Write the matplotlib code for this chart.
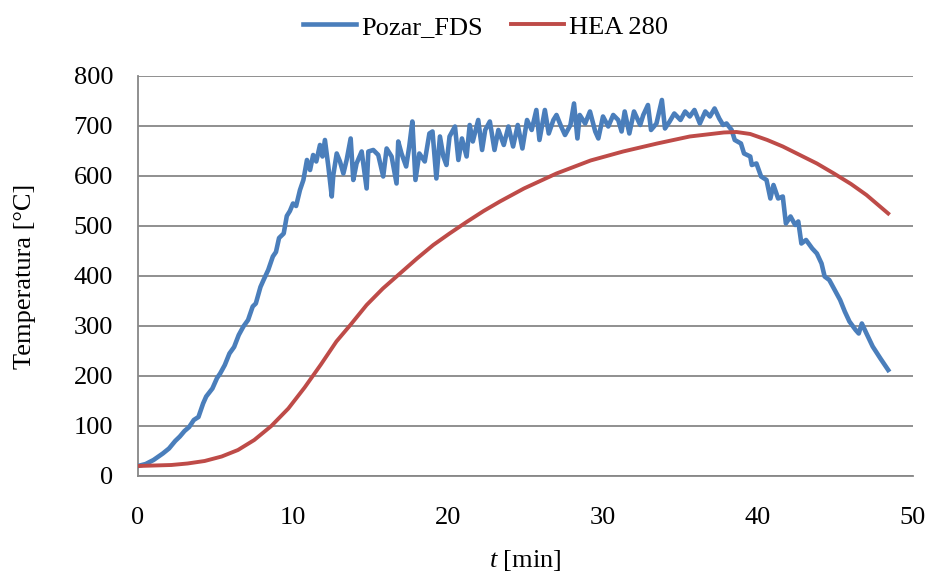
import matplotlib.pyplot as plt

plt.rcParams['font.family'] = ['Liberation Serif', 'DejaVu Serif']
plt.rcParams['mathtext.fontset'] = 'custom'
plt.rcParams['mathtext.it'] = 'Liberation Serif:italic'
plt.rcParams['mathtext.rm'] = 'Liberation Serif'

# Temperatura gazów z symulacji FDS
t_fds = [0.0, 0.5, 1.0, 1.6, 2.0, 2.4, 2.7, 3.0, 3.3, 3.6, 3.9, 4.2, 4.4, 4.8, 5.1,
         5.3, 5.6, 5.9, 6.2, 6.5, 6.8, 7.1, 7.4, 7.6, 7.9, 8.1, 8.4, 8.7, 8.9, 9.1,
         9.4, 9.6, 9.8, 10.0, 10.2,
         10.45, 10.67, 10.9, 11.1, 11.3, 11.5, 11.74, 11.9, 12.06, 12.28, 12.5, 12.6, 12.82,
         13.03, 13.25, 13.46, 13.72, 13.89, 14.1, 14.43, 14.75, 14.86, 15.18, 15.5, 15.82,
         16.04, 16.36, 16.68, 16.79, 17.0, 17.3, 17.5, 17.7, 17.9, 18.15, 18.5, 18.8, 19.0,
         19.25, 19.48, 19.7, 19.9, 20.1, 20.45, 20.67, 20.9, 21.2, 21.4, 21.6, 21.95, 22.2,
         22.4, 22.7, 23.0, 23.25, 23.6, 23.9, 24.2, 24.5, 24.8, 25.1, 25.4, 25.7, 25.9,
         26.25, 26.5, 26.8, 27.0, 27.3, 27.55, 27.9, 28.13, 28.35, 28.5, 28.85, 29.16, 29.5,
         29.7, 30.0, 30.34, 30.66, 30.98, 31.2, 31.4, 31.7, 32.0, 32.4, 32.6, 32.9, 33.1,
         33.45, 33.8, 34.0, 34.3, 34.6, 35.0, 35.3, 35.6, 35.9, 36.25, 36.6, 36.9, 37.2,
         37.5, 37.75, 37.97, 38.3, 38.5, 38.9, 39.1, 39.5, 39.6, 39.9, 40.2, 40.55, 40.8,
         41.0, 41.3, 41.6, 41.8, 42.1, 42.4, 42.6, 42.8, 43.1, 43.5, 43.8, 44.1, 44.3, 44.6,
         45.0, 45.3, 45.6, 45.9, 46.3, 46.5, 46.7, 47.0, 47.4, 47.9, 48.4]
temp_fds = [20, 24, 32, 45, 55, 70, 79, 90, 98, 112, 118, 145, 159, 175, 196,
            205, 222, 245, 258, 282, 299, 312, 339, 345, 378, 392, 412, 439, 448, 476,
            485, 520, 530, 545, 540,
            572, 592, 632, 612, 642, 629, 662, 639, 672, 619, 559, 602, 645,
            629, 605, 632, 675, 592, 625, 649, 575, 649, 652, 642, 599,
            655, 639, 585, 669, 645, 619, 659, 709, 592, 645, 629, 685, 689,
            595, 679, 639, 622, 679, 699, 632, 675, 639, 702, 669, 712, 652,
            692, 709, 652, 692, 662, 699, 659, 702, 655, 712, 692, 732, 672,
            732, 685, 712, 722, 699, 682, 702, 745, 675, 722, 705, 729, 689,
            675, 719, 699, 722, 712, 689, 729, 685, 729, 702, 722, 742, 692,
            705, 752, 695, 709, 725, 712, 729, 719, 732, 705, 729, 719, 735,
            715, 702, 705, 692, 672, 665, 645, 639, 622, 625, 599, 592, 555,
            582, 555, 559, 505, 519, 502, 509, 465, 472, 455, 445, 425, 399, 392,
            369, 352, 329, 309, 292, 285, 305, 285, 259, 235, 212]

# Temperatura stali profilu HEA 280
t_hea = [0, 2.15, 3.2, 4.3, 5.4, 6.45, 7.5, 8.6, 9.7, 10.75, 11.8, 12.8, 13.7, 14.75,
         15.8, 16.9, 18.0, 19.05, 20.1, 21.2, 22.3, 23.35, 24.9, 27.0, 29.2, 31.3, 33.5,
         35.6, 37.8, 38.6, 39.5, 40.6, 41.6, 42.7, 43.8, 44.9, 46.0, 47.0, 48.4]
temp_hea = [20, 22, 25, 30, 39, 52, 72, 100, 135, 177, 223, 269, 302, 342,
            375, 405, 435, 462, 485, 508, 530, 549, 575, 605, 631, 649, 665,
            679, 687, 688, 684, 672, 659, 642, 625, 605, 584, 562, 525]

fig = plt.figure(figsize=(9.3, 5.73), dpi=100)
ax = fig.add_axes([0.1484, 0.1693, 0.8333, 0.6981])

ax.plot(t_fds, temp_fds, color='#4A7EBB', lw=3.3, label='Pozar_FDS', zorder=3,
        solid_joinstyle='round')
ax.plot(t_hea, temp_hea, color='#BE4B48', lw=2.8, label='HEA 280', zorder=4,
        solid_joinstyle='round')

ax.set_xlim(0, 50)
ax.set_ylim(0, 800)
ax.set_xticks(range(0, 51, 10))
ax.set_yticks(range(0, 801, 100))
ax.yaxis.grid(True, color='#878787', lw=1.3)
ax.set_axisbelow(True)
for side in ['top', 'right']:
    ax.spines[side].set_visible(False)
for side in ['left', 'bottom']:
    ax.spines[side].set_color('#878787')
    ax.spines[side].set_linewidth(1.3)
ax.tick_params(length=0, labelsize=19)
ax.tick_params(axis='x', pad=22)
ax.tick_params(axis='y', pad=18)

ax.set_ylabel('Temperatura [°C]', fontsize=19, labelpad=27)
ax.set_xlabel('$t$ [min]', fontsize=19, labelpad=14)

fig.legend(loc='upper center', bbox_to_anchor=(0.522, 1.015), ncol=2, frameon=False,
           fontsize=19, handlelength=2.0, columnspacing=1.07, handletextpad=0.2)

fig.savefig('out.png', dpi=100)
